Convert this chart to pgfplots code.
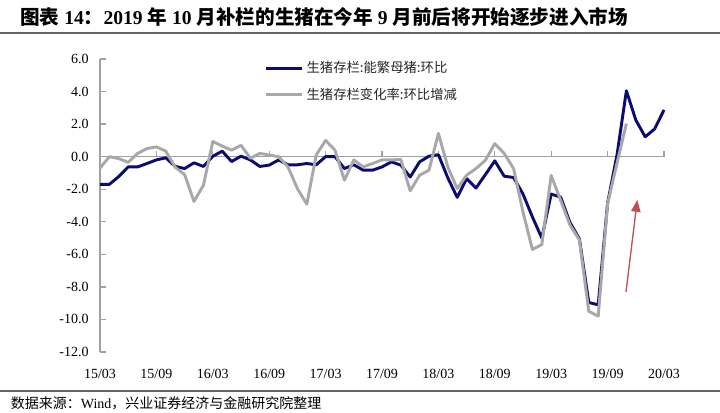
\documentclass[border=0pt]{standalone}
\usepackage{fontspec}
\setmainfont{Liberation Serif}
\newfontfamily\cjk{Noto Sans CJK SC}
\usepackage{pgfplots}
\usepackage{pgfplotstable}
\pgfplotsset{compat=1.18}
\usetikzlibrary{arrows.meta}

\definecolor{navy}{RGB}{12,12,112}
\definecolor{lgray}{RGB}{168,168,168}
\definecolor{axgray}{RGB}{160,160,160}
\definecolor{arrowred}{RGB}{192,80,77}
\newcommand{\C}[1]{{\cjk #1}}

% month index 0 = 2015/03
\pgfplotstableread{
i v
0 -1.70
1 -1.70
2 -1.22
3 -0.63
4 -0.63
5 -0.42
6 -0.20
7 -0.07
8 -0.60
9 -0.73
10 -0.38
11 -0.60
12 0.02
13 0.34
14 -0.30
15 0.03
16 -0.20
17 -0.60
18 -0.52
19 -0.20
20 -0.50
21 -0.50
22 -0.42
23 -0.50
24 0.00
25 0.00
26 -0.73
27 -0.50
28 -0.83
29 -0.83
30 -0.63
31 -0.32
32 -0.52
33 -1.25
34 -0.32
35 0.03
36 0.12
37 -1.30
38 -2.50
39 -1.35
40 -1.93
41 -1.10
42 -0.26
43 -1.20
44 -1.28
45 -2.30
46 -3.70
47 -5.00
48 -2.30
49 -2.48
50 -4.05
51 -5.05
52 -8.96
53 -9.10
54 -2.85
55 0.10
56 4.05
57 2.25
58 1.22
59 1.70
60 2.87
}\sowtable

\pgfplotstableread{
i v
0 -0.70
1 0.00
2 -0.12
3 -0.35
4 0.20
5 0.50
6 0.60
7 0.34
8 -0.65
9 -1.10
10 -2.75
11 -1.76
12 0.93
13 0.65
14 0.40
15 0.70
16 -0.10
17 0.20
18 0.10
19 0.00
20 -0.63
21 -1.96
22 -2.92
23 0.10
24 1.00
25 0.40
26 -1.45
27 -0.20
28 -0.63
29 -0.42
30 -0.20
31 -0.20
32 -0.17
33 -2.10
34 -1.14
35 -0.83
36 1.43
37 -0.63
38 -1.96
39 -1.14
40 -0.73
41 -0.22
42 0.80
43 0.20
44 -0.73
45 -3.40
46 -5.70
47 -5.40
48 -1.15
49 -2.68
50 -4.20
51 -5.12
52 -9.50
53 -9.80
54 -2.90
55 -0.40
56 2.03
}\hogtable

\begin{document}
\begin{tikzpicture}
\useasboundingbox (0,0) rectangle (540pt,309.75pt);
\node[anchor=west, inner sep=0pt, font=\fontsize{14.7}{16}\selectfont\bfseries] at (15pt,297pt)
  {\C{图表} 14\C{：}2019 \C{年} 10 \C{月补栏的生猪在今年} 9 \C{月前后将开始逐步进入市场}};
\draw[black!60, line width=1pt] (0,285pt) -- (540pt,285pt);
\draw[black!60, line width=1pt] (0,16.5pt) -- (540pt,16.5pt);
\node[anchor=west, inner sep=0pt, font=\fontsize{10.5}{12}\selectfont] at (8pt,7.5pt)
  {\C{数据来源：}Wind\C{，兴业证券经济与金融研究院整理}};
\begin{axis}[
  scale only axis,
  width=423pt, height=219.75pt,
  at={(75pt,45.75pt)}, anchor=south west,
  xmin=0, xmax=60, ymin=-12, ymax=6,
  clip=false,
  axis y line=left,
  axis x line=bottom,
  x axis line style={draw=none},
  y axis line style={-, draw=axgray, line width=1.1pt},
  ytick={-12,-10,...,6},
  yticklabels={-12.0,-10.0,-8.0,-6.0,-4.0,-2.0,0.0,2.0,4.0,6.0},
  ytick align=inside,
  major tick length=4.5pt,
  ytick style={draw=axgray, line width=1pt},
  xtick={0,6,...,60},
  xticklabels={15/03,15/09,16/03,16/09,17/03,17/09,18/03,18/09,19/03,19/09,20/03},
  xtick style={draw=none},
  tick label style={font=\fontsize{10.5}{12}\selectfont, text=black},
  yticklabel style={xshift=-5pt},
  xticklabel style={yshift=-7pt},
  legend style={at={(0.285,1.01)}, anchor=north west, draw=none, fill=none,
    font=\cjk\fontsize{10}{12}\selectfont, text=black!85, row sep=6pt},
  legend cell align=left,
  legend image code/.code={\draw[#1, line width=2.2pt] (0pt,0pt) -- (27pt,0pt);},
]
\draw[axgray, line width=1.1pt] (axis cs:0,0) -- (axis cs:60,0);
\pgfplotsinvokeforeach{6,12,...,60}{\draw[axgray, line width=1pt] (axis cs:#1,0) -- ([yshift=4.5pt]axis cs:#1,0);}
\addplot[navy, line width=2.2pt, line join=round] table[x=i, y=v] {\sowtable};
\addlegendentry{生猪存栏:能繁母猪:环比}
\addplot[lgray, line width=2.2pt, line join=round] table[x=i, y=v] {\hogtable};
\addlegendentry{生猪存栏变化率:环比增减}
\draw[arrowred, line width=1pt, -{Triangle[length=9pt, width=7pt]}] (axis cs:55.96,-8.3) -- (axis cs:57.16,-2.65);
\end{axis}
\end{tikzpicture}
\end{document}
